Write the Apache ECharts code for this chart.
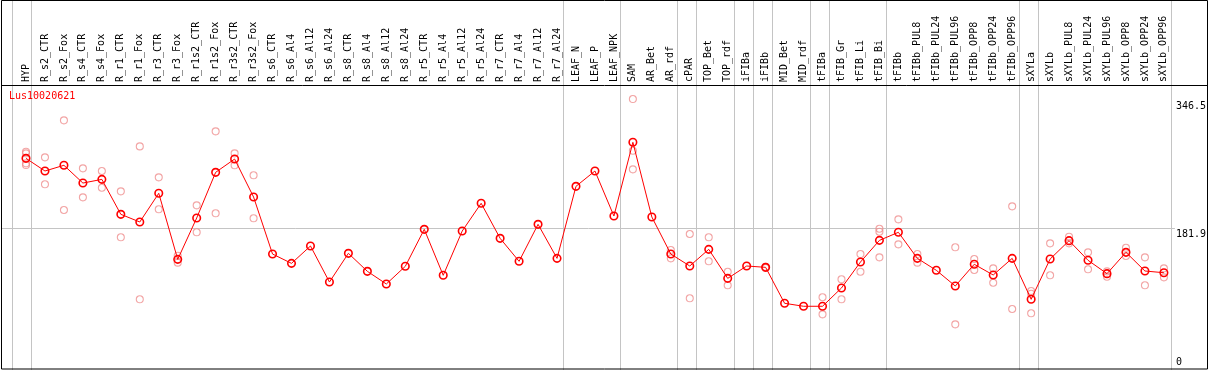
<!DOCTYPE html>
<html>
<head>
<meta charset="utf-8">
<script src="https://cdn.jsdelivr.net/npm/echarts@6/dist/echarts.min.js"></script>
<style>
  html, body { margin: 0; padding: 0; background: #fff; }
  #chart { width: 1209px; height: 370px; }
</style>
</head>
<body>
<div id="chart"></div>
<script>
// ---------------- data ----------------
const geneName = 'Lus10020621';

const categories = [
  'HYP',
  'R_s2_CTR', 'R_s2_Fox', 'R_s4_CTR', 'R_s4_Fox', 'R_r1_CTR', 'R_r1_Fox', 'R_r3_CTR', 'R_r3_Fox',
  'R_r1s2_CTR', 'R_r1s2_Fox', 'R_r3s2_CTR', 'R_r3s2_Fox',
  'R_s6_CTR', 'R_s6_Al4', 'R_s6_Al12', 'R_s6_Al24',
  'R_s8_CTR', 'R_s8_Al4', 'R_s8_Al12', 'R_s8_Al24',
  'R_r5_CTR', 'R_r5_Al4', 'R_r5_Al12', 'R_r5_Al24',
  'R_r7_CTR', 'R_r7_Al4', 'R_r7_Al12', 'R_r7_Al24',
  'LEAF_N', 'LEAF_P', 'LEAF_NPK',
  'SAM', 'AR_Bet', 'AR_rdf', 'cPAR', 'TOP_Bet', 'TOP_rdf', 'iFIBa', 'iFIBb', 'MID_Bet', 'MID_rdf',
  'tFIBa', 'tFIB_Gr', 'tFIB_Li', 'tFIB_Bi', 'tFIBb',
  'tFIBb_PUL8', 'tFIBb_PUL24', 'tFIBb_PUL96', 'tFIBb_OPP8', 'tFIBb_OPP24', 'tFIBb_OPP96',
  'sXYLa', 'sXYLb',
  'sXYLb_PUL8', 'sXYLb_PUL24', 'sXYLb_PUL96', 'sXYLb_OPP8', 'sXYLb_OPP24', 'sXYLb_OPP96'
];

const meanValues = [
  270.7,
  254.5, 261.8, 239.1, 243.8, 199.1, 189.3, 226.0, 141.5,
  194.4, 252.8, 269.8, 221.2,
  148.3, 136.4, 158.6, 112.5,
  149.2, 126.2, 110.0, 132.6,
  179.9, 121.1, 177.7, 213.2,
  168.4, 139.0, 186.3, 142.8,
  234.9, 254.5, 196.9,
  291.2, 195.7, 148.3, 133.0, 154.3, 117.2, 133.0, 131.3, 85.3, 81.5,
  81.5, 104.9, 138.1, 165.8, 176.1,
  142.8, 127.5, 107.4, 135.2, 121.5, 142.8,
  90.4, 141.9,
  165.4, 140.3, 123.2, 150.5, 126.6, 124.4
];

// replicate values (null = no replicate drawn)
const rep1 = [
  279.2,
  272.0, 319.3, 257.9, 254.5, 228.5, 286.0, 246.4, 146.2,
  210.6, 305.2, 277.1, 249.0,
  null, null, null, null,
  null, null, null, null,
  null, null, null, null,
  null, null, null, null,
  null, null, null,
  346.5, null, 153.5, 173.9, 169.7, 125.7, null, 132.0, null, null,
  93.0, 116.0, 148.3, 180.7, 192.7,
  148.3, null, 156.9, 141.9, 130.0, 209.3,
  101.0, 162.0,
  170.5, 150.5, 126.2, 156.4, 144.1, 130.0
];
const rep2 = [
  277.1,
  237.5, 204.6, 220.8, 233.1, 169.7, 90.4, 205.5, 137.3,
  176.1, 200.4, 261.8, 194.0,
  null, null, null, null,
  null, null, null, null,
  null, null, null, null,
  null, null, null, null,
  null, null, null,
  280.4, null, 142.8, 91.7, 139.0, 108.3, null, 130.5, null, null,
  71.2, 90.4, 125.7, 176.9, 160.7,
  137.3, null, 58.4, 127.9, 111.6, 78.0,
  97.5, 121.1,
  162.0, 128.8, 119.3, 145.8, 108.3, 118.5
];
const rep3 = [
  264.3,
  null, null, null, null, null, null, null, null,
  null, null, null, null,
  null, null, null, null,
  null, null, null, null,
  null, null, null, null,
  null, null, null, null,
  null, null, null,
  256.6, null, null, null, null, null, null, null, null, null,
  null, null, null, 144.1, null,
  null, null, null, null, null, null,
  72.5, null,
  null, null, null, null, null, null
];
const rep4 = [
  262.1,
  null, null, null, null, null, null, null, null,
  null, null, null, null,
  null, null, null, null,
  null, null, null, null,
  null, null, null, null,
  null, null, null, null,
  null, null, null,
  null, null, null, null, null, null, null, null, null, null,
  null, null, null, null, null,
  null, null, null, null, null, null,
  null, null,
  null, null, null, null, null, null
];

const yAxisMax = 364.5;
const yTickLabelsTop = [181.9, 346.5];
const yTickLabelsBottom = [0];
const gridLineValue = 181.9;

// a separator is drawn before the first category and after each of these
const separatorAfter = ['HYP', 'R_r7_Al24', 'LEAF_NPK', 'AR_rdf', 'cPAR', 'TOP_rdf', 'iFIBa', 'iFIBb',
  'MID_rdf', 'tFIBa', 'tFIB_Bi', 'tFIBb_OPP96', 'sXYLa', 'sXYLb_OPP96'];

// ---------------- chart ----------------
const FONT = '"DejaVu Sans Mono", "Liberation Mono", monospace';
const sepOffset = 4.5 / 19;
const sepPositions = [-1 + sepOffset].concat(
  separatorAfter.map(n => categories.indexOf(n) + sepOffset));

const repColor = '#ef8e8e';
function repSeries(arr) {
  return {
    type: 'scatter', xAxisIndex: 0, yAxisIndex: 0,
    data: arr, symbol: 'circle', symbolSize: 7,
    itemStyle: { color: 'rgba(0,0,0,0)', borderColor: repColor, borderWidth: 1.1 },
    silent: true, z: 3
  };
}

const chart = echarts.init(document.getElementById('chart'), null, { renderer: 'canvas' });
chart.setOption({
  animation: false,
  backgroundColor: '#fff',
  title: {
    text: geneName, left: 9, top: 91, padding: 0,
    textStyle: { color: '#ff0000', fontFamily: FONT, fontSize: 10, fontWeight: 'normal' }
  },
  grid: [
    { left: 26, right: 43, top: 85, bottom: 0 },
    { left: 26, right: 43, top: 0, bottom: 0 }
  ],
  xAxis: [
    {
      type: 'category', gridIndex: 0, data: categories, position: 'top', boundaryGap: false,
      axisLine: { show: false }, axisTick: { show: false }, splitLine: { show: false },
      axisLabel: { rotate: 90, margin: 3, interval: 0, color: '#000', fontFamily: FONT, fontSize: 10 }
    },
    { type: 'value', gridIndex: 1, min: 0, max: categories.length - 1, show: false }
  ],
  yAxis: [
    {
      type: 'value', gridIndex: 0, position: 'right', min: 0, max: yAxisMax,
      axisLine: { show: false }, axisTick: { show: false }, splitLine: { show: false },
      axisLabel: { customValues: yTickLabelsTop, margin: 12, align: 'left', verticalAlign: 'top',
        color: '#000', fontFamily: FONT, fontSize: 10, padding: [2, 0, 0, 0] }
    },
    {
      type: 'value', gridIndex: 0, position: 'right', min: 0, max: yAxisMax,
      axisLine: { show: false }, axisTick: { show: false }, splitLine: { show: false },
      axisLabel: { customValues: yTickLabelsBottom, margin: 12, align: 'left', verticalAlign: 'bottom',
        color: '#000', fontFamily: FONT, fontSize: 10, padding: [0, 0, 3, 0] }
    },
    { type: 'value', gridIndex: 1, min: 0, max: 1, show: false }
  ],
  graphic: [
    { type: 'rect', silent: true, z: 100,
      shape: { x: 1.5, y: 0.5, width: 1206, height: 368.5 },
      style: { fill: null, stroke: '#000', lineWidth: 1 } },
    { type: 'line', silent: true, z: 100,
      shape: { x1: 1, y1: 85.5, x2: 1208, y2: 85.5 },
      style: { stroke: '#000', lineWidth: 1 } }
  ],
  series: [
    {
      type: 'custom', xAxisIndex: 1, yAxisIndex: 2, silent: true, z: 1,
      data: sepPositions.map(v => [v, 0]),
      renderItem: function (params, api) {
        const x = Math.round(api.coord([api.value(0), 0])[0]) + 0.5;
        const yTop = api.coord([0, 1])[1];
        const yBot = api.coord([0, 0])[1];
        return { type: 'line', shape: { x1: x, y1: yTop, x2: x, y2: yBot },
          style: { stroke: '#c4c4c4', lineWidth: 1 } };
      }
    },
    {
      type: 'custom', xAxisIndex: 0, yAxisIndex: 0, silent: true, z: 1,
      data: [[0, gridLineValue]],
      renderItem: function (params, api) {
        const y = Math.round(api.coord([0, api.value(1)])[1]) + 0.5;
        const cs = params.coordSys;
        return { type: 'line', shape: { x1: 2, y1: y, x2: cs.x + cs.width + 11, y2: y },
          style: { stroke: '#c4c4c4', lineWidth: 1 } };
      }
    },
    repSeries(rep1), repSeries(rep2), repSeries(rep3), repSeries(rep4),
    {
      type: 'line', xAxisIndex: 0, yAxisIndex: 0, data: meanValues,
      symbol: 'circle', symbolSize: 7.5, showAllSymbol: true,
      itemStyle: { color: 'rgba(0,0,0,0)', borderColor: '#ff0000', borderWidth: 1.6 },
      lineStyle: { color: '#ff0000', width: 1 },
      silent: true, z: 5
    }
  ]
});
</script>
</body>
</html>
